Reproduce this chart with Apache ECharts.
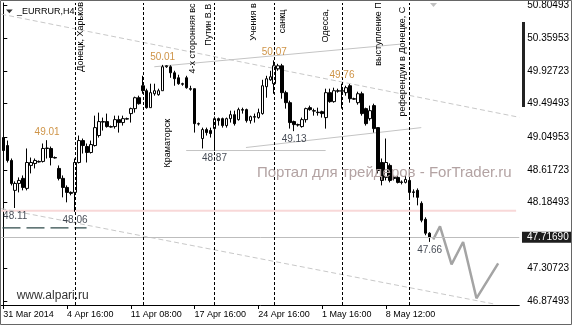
<!DOCTYPE html>
<html><head><meta charset="utf-8">
<script src="https://cdn.jsdelivr.net/npm/echarts@6/dist/echarts.min.js"></script>
<style>html,body{margin:0;padding:0;background:#fff}#c{width:572px;height:325px}</style>
</head><body><div id="c"></div>
<script>
// ---- data (EURRUR H4) ----
const opens = [49.045,48.939,48.741,48.344,48.436,48.503,48.370,48.675,48.701,48.728,48.728,48.900,48.900,48.780,48.635,48.503,48.383,48.317,48.317,48.714,
49.005,48.926,48.847,48.939,49.072,49.257,49.257,49.191,49.191,49.283,49.244,49.296,49.363,49.429,49.574,49.733,49.667,49.442,49.627,49.614,
49.667,49.985,49.985,49.905,49.839,49.760,49.839,49.694,49.694,49.230,49.032,49.151,49.138,49.164,49.296,49.296,49.204,49.296,49.349,49.283,
49.416,49.416,49.270,49.323,49.310,49.363,49.720,49.812,49.760,49.958,49.998,49.641,49.508,49.257,49.217,49.191,49.283,49.442,49.402,49.382,
49.389,49.310,49.641,49.522,49.667,49.667,49.641,49.733,49.561,49.508,49.627,49.429,49.296,49.469,49.177,48.714,48.516,48.675,48.516,48.516,
48.456,48.450,48.476,48.324,48.344,48.172,47.960,47.775];
const closes = [48.873,48.741,48.436,48.436,48.476,48.383,48.714,48.714,48.741,48.721,48.900,48.906,48.780,48.774,48.503,48.383,48.317,48.304,48.714,49.005,
48.939,48.847,48.952,49.177,49.257,49.250,49.191,49.184,49.283,49.244,49.296,49.290,49.429,49.574,49.495,49.667,49.442,49.641,49.667,49.667,
49.985,49.998,49.905,49.826,49.760,49.753,49.707,49.687,49.230,49.224,49.151,49.111,49.098,49.296,49.270,49.204,49.296,49.349,49.230,49.416,
49.409,49.270,49.323,49.316,49.376,49.733,49.826,49.852,49.998,49.998,49.641,49.508,49.244,49.217,49.211,49.283,49.429,49.416,49.396,49.376,
49.363,49.641,49.522,49.667,49.661,49.661,49.707,49.561,49.555,49.627,49.363,49.230,49.402,49.164,48.608,48.476,48.714,48.476,48.503,48.450,
48.450,48.489,48.317,48.317,48.251,47.947,47.775,47.717];
const lows = [48.847,48.714,48.410,48.110,48.317,48.344,48.344,48.569,48.635,48.714,48.714,48.767,48.675,48.767,48.476,48.251,48.185,48.278,48.060,48.701,
48.833,48.714,48.833,48.926,49.045,49.138,49.177,49.177,49.164,49.111,49.204,49.283,49.244,49.376,49.482,49.627,49.429,49.442,49.601,49.601,
49.667,49.971,49.839,49.733,49.746,49.733,49.694,49.667,49.111,49.204,48.900,49.072,49.045,48.870,49.204,49.177,49.177,49.244,49.204,49.270,
49.363,49.244,49.230,49.244,49.296,49.349,49.574,49.799,49.627,49.932,49.561,49.429,49.164,49.130,49.191,49.177,49.244,49.402,49.336,49.336,
49.310,49.164,49.508,49.508,49.641,49.429,49.601,49.508,49.548,49.482,49.336,49.204,49.270,49.111,48.569,48.410,48.476,48.450,48.476,48.436,
48.423,48.436,48.251,48.251,48.145,47.920,47.748,47.660];
const highs = [49.111,49.005,48.767,48.463,48.516,48.542,48.900,48.780,48.767,48.741,48.966,49.010,48.926,48.794,48.675,48.542,48.410,48.330,48.767,49.072,
49.032,48.966,49.005,49.336,49.376,49.310,49.363,49.204,49.336,49.336,49.336,49.310,49.442,49.588,49.601,49.865,49.694,49.760,49.760,49.694,
50.010,50.005,50.005,49.932,49.879,49.773,49.865,49.733,49.694,49.244,49.177,49.177,49.177,49.323,49.310,49.310,49.310,49.402,49.402,49.442,
49.442,49.429,49.336,49.363,49.429,49.812,49.865,49.932,50.070,50.024,50.024,49.667,49.535,49.270,49.230,49.310,49.442,49.469,49.429,49.442,
49.402,49.694,49.694,49.707,49.694,49.760,49.733,49.755,49.574,49.654,49.654,49.442,49.469,49.495,49.177,48.767,49.032,48.701,48.529,48.542,
48.476,48.542,48.503,48.357,48.370,48.198,47.986,47.788];
const barSlots = 130;
const tickBars = [0,16,32,48,64,80,96];
const tickLabels = ['31 Mar 2014','4 Apr 16:00','11 Apr 08:00','17 Apr 16:00','24 Apr 16:00','1 May 16:00','8 May 12:00'];
const yTicks = [50.80493,50.35953,49.92723,49.49493,49.04953,48.61723,48.18493,47.30723,46.87493];
const yMin = 46.822, yMax = 50.8315;
const lastPrice = 47.7169;
const eventBars = [18,35,53,68,85,102];
const noteTexts = ['Донецк, Харьков','Краматорск','4-х сторонняя вс','Путин В.В','Учения в','санкц','Одесса,','выступление П','референдум в Донецке, С'];
const noteBars = [19.3,41.2,47.55,51.4,62.9,70.05,80.85,94.2,100.2];
const notePrices = [49.918,48.648,49.896,50.263,50.329,50.431,50.306,49.998,49.323];
const hlBars = [11,40,68,85,3,18,53,73,107];
const hlPrices = [49.01,50.01,50.07,49.76,48.11,48.06,48.87,49.13,47.66];
const hlTexts = ['49.01','50.01','50.07','49.76','48.11','48.06','48.87','49.13','47.66'];
const hlSides = ['top','top','top','top','bottom','bottom','bottom','bottom','bottom'];
const channelUpper = [[-0.5,50.683],[129.5,49.314]];
const channelLower = [[-0.5,48.102],[123.2,46.835]];
const trendTop = [[37.9,49.985],[100.4,50.289]];
const supportFlat = [[45.9,48.873],[80.9,48.873]];
const trendRising = [[60.9,48.913],[104.9,49.177]];
const pinkLevel = [[-0.5,48.073],[128.7,48.073]];
const darkLevel = [[-0.2,47.845],[20.9,47.845]];
const forecast = [[107.9,47.691],[109.6,47.867],[112.5,47.361],[115.4,47.659],[118.75,46.911],[124.2,47.374]];

// ---- build ----
const FONT = '"Liberation Sans", Arial, sans-serif';
const categories = Array.from({length: barSlots}, (_, i) => String(i));
const candles = opens.map((o, i) => [o, closes[i], lows[i], highs[i]]);
function lineSeries(data, color, width, type, z, extra) {
  return Object.assign({type:'line', xAxisIndex:1, yAxisIndex:0, data, symbol:'none', silent:true,
    lineStyle:{color, width, type}, z, animation:false}, extra || {});
}
const option = {
  animation:false,
  textStyle:{fontFamily:FONT},
  grid:{left:1.3, right:50.7, top:2, bottom:20, containLabel:false},
  xAxis:[{
    type:'category', data:categories, boundaryGap:true,
    axisLine:{show:true, lineStyle:{color:'#000', width:1}},
    axisTick:{show:true, alignWithLabel:true, length:4, interval:(i)=>tickBars.includes(i), lineStyle:{color:'#000'}},
    axisLabel:{interval:(i)=>tickBars.includes(i), formatter:(v,i)=>tickLabels[tickBars.indexOf(i)] || '',
      align:'left', fontSize:9, color:'#000', margin:5, fontFamily:FONT},
    splitLine:{show:false}
  },{
    type:'value', min:-0.5, max:barSlots-0.5, show:false
  }],
  yAxis:[{
    type:'value', position:'right', offset:2, min:yMin, max:yMax, scale:true,
    splitLine:{show:false},
    axisLine:{show:true, lineStyle:{color:'#000', width:1}},
    axisTick:{show:true, length:4, customValues:yTicks, lineStyle:{color:'#000'}},
    axisLabel:{customValues:yTicks, formatter:(v)=>v.toFixed(5), fontSize:10, color:'#000', margin:6, fontFamily:FONT}
  }],
  series:[
    lineSeries(pinkLevel, '#f8d8d8', 2, 'solid', 1),
    lineSeries(channelUpper, '#c8c8c8', 1, [5,3], 1),
    lineSeries(channelLower, '#c8c8c8', 1, [5,3], 1),
    lineSeries(trendTop, '#c4c4c4', 1, 'solid', 1),
    lineSeries(supportFlat, '#c4c4c4', 1, 'solid', 1),
    lineSeries(trendRising, '#c4c4c4', 1, 'solid', 1),
    lineSeries(darkLevel, '#2f4a4a', 1.3, [18,6], 1),
    lineSeries(forecast, '#a4a4a4', 2.5, 'solid', 3),
    {
      type:'candlestick', data:candles, barWidth:3, z:2, silent:true,
      itemStyle:{color:'#fff', color0:'#000', borderColor:'#000', borderColor0:'#000', borderWidth:1},
      markLine:{silent:true, symbol:['none','none'], animation:false,
        lineStyle:{color:'#bdbdbd', type:'solid', width:1},
        label:{show:true, position:'end', distance:2.7, formatter:lastPrice.toFixed(5),
          backgroundColor:'#1e1e1e', color:'#fff', fontSize:10, lineHeight:11, padding:[0,3,0,5], fontFamily:FONT},
        data:[{yAxis:lastPrice}]}
    },
    lineSeries(pinkLevel, 'rgba(0,0,0,0)', 0, 'solid', 4, {
      markLine:{silent:true, symbol:['none','none'], animation:false, label:{show:false},
        lineStyle:{color:'#000', type:[3,2], width:1},
        data:eventBars.map(b=>({xAxis:b}))}
    }),
    {
      type:'scatter', xAxisIndex:1, yAxisIndex:0, symbolSize:0, silent:true, z:5,
      data:hlBars.map((b,i)=>({value:[b, hlPrices[i]],
        label:{show:true, position:hlSides[i], distance:3, formatter:hlTexts[i],
          color: hlSides[i]==='top' ? '#c27818' : '#141c28', fontSize:10, fontFamily:FONT}}))
    }
  ]
};
const chart = echarts.init(document.getElementById('c'), null, {renderer:'canvas'});
chart.setOption(option);

const toPx = (b, p) => chart.convertToPixel({xAxisIndex:1, yAxisIndex:0}, [b, p]);
const g = [];
noteTexts.forEach((t, i) => {
  const pt = toPx(noteBars[i], notePrices[i]);
  g.push({type:'text', x:pt[0], y:pt[1], rotation:Math.PI/2, z:50, silent:true,
    style:{text:t, font:'9px ' + FONT, fill:'#000', align:'left', textAlign:'left', verticalAlign:'middle', textVerticalAlign:'middle'}});
});
g.push({type:'text', x:17, y:11.5, z:50, silent:true,
  style:{text:'_EURRUR,H4', font:'9px ' + FONT, fill:'#000', align:'left', textAlign:'left', verticalAlign:'middle', textVerticalAlign:'middle'}});
g.push({type:'polygon', z:50, silent:true, shape:{points:[[6,9.5],[12.7,9.5],[9.35,13.3]]}, style:{fill:'#333'}});
g.push({type:'polygon', z:50, silent:true, shape:{points:[[430,3],[437,3],[433.5,7]]}, style:{fill:'#c0c0c0'}});
g.push({type:'text', x:257, y:173, z:40, silent:true,
  style:{text:'Портал для трейдеров - ForTrader.ru', font:'15px ' + FONT, fill:'#b3a3a3', align:'left', textAlign:'left', verticalAlign:'middle', textVerticalAlign:'middle'}});
g.push({type:'text', x:16.7, y:296, z:40, silent:true,
  style:{text:'www.alpari.ru', font:'12px ' + FONT, fill:'#333', align:'left', textAlign:'left', verticalAlign:'middle', textVerticalAlign:'middle'}});
g.push({type:'rect', z:50, silent:true, shape:{x:522, y:22, width:3, height:85}, style:{fill:'#222'}});
g.push({type:'rect', z:60, silent:true, shape:{x:0.5, y:0.5, width:571, height:324}, style:{fill:'none', stroke:'#666', lineWidth:1}});
chart.setOption({graphic:g});
</script>
</body></html>
